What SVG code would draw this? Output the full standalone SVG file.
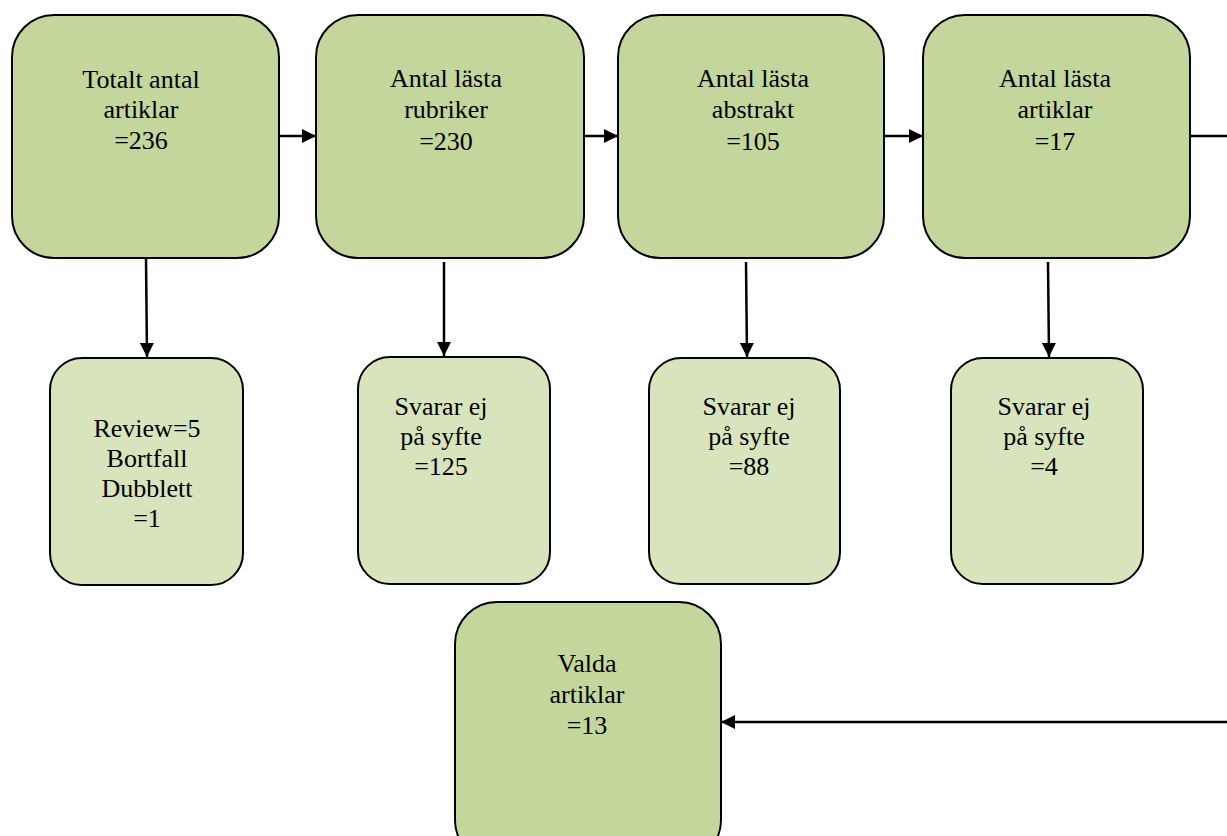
<svg xmlns="http://www.w3.org/2000/svg" width="1227" height="836" viewBox="0 0 1227 836">
<defs>
<style>
.main{fill:#c3d69b;stroke:#000;stroke-width:2}
.sub{fill:#d7e4bc;stroke:#000;stroke-width:2}
.t{font-family:"Liberation Serif","Times New Roman",serif;font-size:26px;fill:#000;text-anchor:middle}
.c{stroke:#000;stroke-width:2.5;fill:none}
</style>
<marker id="ah" viewBox="0 0 10 10" refX="10" refY="5" markerWidth="15" markerHeight="14" markerUnits="userSpaceOnUse" orient="auto">
<path d="M0,0 L10,5 L0,10 z" fill="#000"/>
</marker>
</defs>
<rect width="1227" height="836" fill="#fff"/>
<g id="connectors">
<line class="c" x1="279" y1="136" x2="316" y2="136" marker-end="url(#ah)"/>
<line class="c" x1="584" y1="136" x2="618" y2="136" marker-end="url(#ah)"/>
<line class="c" x1="884" y1="136" x2="923" y2="136" marker-end="url(#ah)"/>
<line class="c" x1="1190" y1="136" x2="1230" y2="136"/>
<line class="c" x1="1230" y1="722" x2="721" y2="722" marker-end="url(#ah)"/>
<line class="c" x1="146" y1="258" x2="147" y2="357" marker-end="url(#ah)"/>
<line class="c" x1="444" y1="262" x2="444" y2="356" marker-end="url(#ah)"/>
<line class="c" x1="746" y1="262" x2="747" y2="357" marker-end="url(#ah)"/>
<line class="c" x1="1048" y1="262" x2="1049" y2="357" marker-end="url(#ah)"/>
</g>
<g id="n1"><rect class="main" x="12" y="15" width="267" height="243" rx="42"/>
<text class="t"><tspan x="141" y="88">Totalt antal</tspan><tspan x="141" y="118">artiklar</tspan><tspan x="141" y="149">=236</tspan></text></g>
<g id="n2"><rect class="main" x="316" y="15" width="268" height="243" rx="42"/>
<text class="t"><tspan x="446" y="87">Antal lästa</tspan><tspan x="446" y="118">rubriker</tspan><tspan x="446" y="150">=230</tspan></text></g>
<g id="n3"><rect class="main" x="618" y="15" width="266" height="243" rx="42"/>
<text class="t"><tspan x="753" y="87">Antal lästa</tspan><tspan x="753" y="118">abstrakt</tspan><tspan x="753" y="150">=105</tspan></text></g>
<g id="n4"><rect class="main" x="923" y="15" width="267" height="243" rx="42"/>
<text class="t"><tspan x="1055" y="87">Antal lästa</tspan><tspan x="1055" y="118">artiklar</tspan><tspan x="1055" y="150">=17</tspan></text></g>
<g id="s1"><rect class="sub" x="50" y="358" width="193" height="227" rx="32"/>
<text class="t"><tspan x="147" y="437">Review=5</tspan><tspan x="147" y="467">Bortfall</tspan><tspan x="147" y="497">Dubblett</tspan><tspan x="147" y="527">=1</tspan></text></g>
<g id="s2"><rect class="sub" x="358" y="357" width="192" height="227" rx="32"/>
<text class="t"><tspan x="441" y="415">Svarar ej</tspan><tspan x="441" y="445">på syfte</tspan><tspan x="441" y="475">=125</tspan></text></g>
<g id="s3"><rect class="sub" x="649" y="358" width="191" height="226" rx="32"/>
<text class="t"><tspan x="749" y="415">Svarar ej</tspan><tspan x="749" y="445">på syfte</tspan><tspan x="749" y="475">=88</tspan></text></g>
<g id="s4"><rect class="sub" x="951" y="358" width="192" height="226" rx="32"/>
<text class="t"><tspan x="1044" y="415">Svarar ej</tspan><tspan x="1044" y="445">på syfte</tspan><tspan x="1044" y="475">=4</tspan></text></g>
<g id="n5"><rect class="main" x="455" y="602" width="266" height="260" rx="42"/>
<text class="t"><tspan x="587" y="672">Valda</tspan><tspan x="587" y="703">artiklar</tspan><tspan x="587" y="734">=13</tspan></text></g>
</svg>
